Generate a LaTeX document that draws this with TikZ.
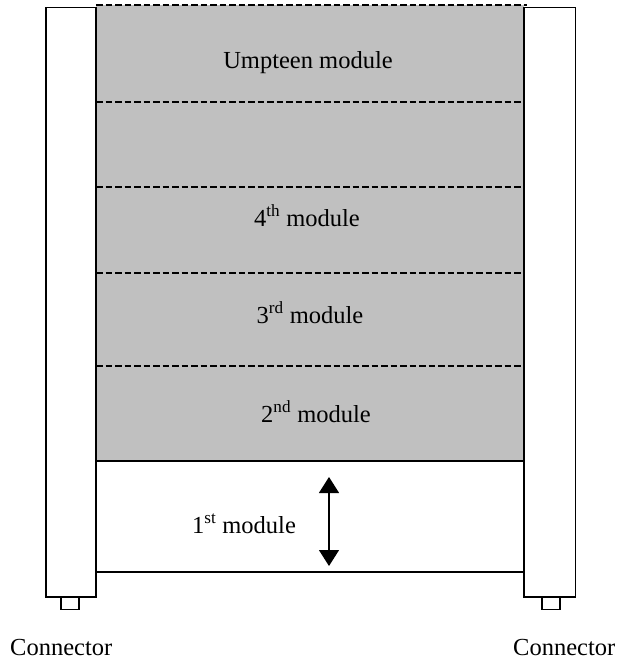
\documentclass[tikz,border=0pt]{standalone}
\usepackage{fontspec}
\setmainfont{Liberation Serif}
\usetikzlibrary{arrows.meta}
\begin{document}
\begin{tikzpicture}[x=1pt,y=-1pt,
  colbox/.style={draw=black,fill=white,line width=1.2pt},
  dashline/.style={draw=black,line width=1.2pt,dash pattern=on 6.5pt off 3pt},
  solidline/.style={draw=black,line width=1.2pt},
  lbl/.style={font=\fontsize{24.5}{28}\selectfont,inner sep=0pt,anchor=base},
  dblarrow/.style={line width=1.2pt,{Triangle[width=20pt,length=16pt]}-{Triangle[width=20pt,length=16pt]}}]
\useasboundingbox (0,0) rectangle (619,659);
% gray block
\fill[fill={rgb,255:red,192;green,192;blue,192}] (96,5) rectangle (524,461);
% dashed separators
\foreach \yy in {5,102,187,273,366} \draw[dashline] (96,\yy) -- (527,\yy);
% solid lines of the first module
\draw[solidline] (96,461) -- (524,461);
\draw[solidline] (96,572) -- (524,572);
% columns
\draw[colbox] (46,7.5) rectangle (96,597);
\draw[colbox] (524,7.5) rectangle (575.5,597);
\draw[colbox] (61,597) rectangle (79,609.5);
\draw[colbox] (542,597) rectangle (560,609.5);
% labels
\node[lbl] (umpteen) at (308,68) {Umpteen module};
\node[lbl] (m4) at (307,226) {4\textsuperscript{th} module};
\node[lbl] (m3) at (310,323) {3\textsuperscript{rd} module};
\node[lbl] (m2) at (316,422) {2\textsuperscript{nd} module};
\node[lbl] (m1) at (244,533) {1\textsuperscript{st} module};
\node[lbl,anchor=base west,text depth=0pt] (conL) at (10,655) {Connector};
\node[lbl,anchor=base west,text depth=0pt] (conR) at (513,655) {Connector};
% arrow
\coordinate (atop) at (329,477);
\coordinate (abot) at (329,566);
\draw[dblarrow] (atop) -- (abot);
\end{tikzpicture}
\end{document}
